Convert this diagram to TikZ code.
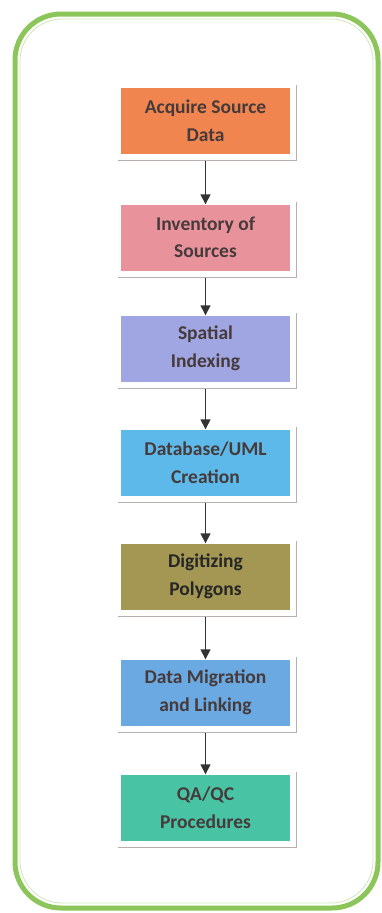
\documentclass[tikz,border=0pt]{standalone}
\usepackage{fontspec}
\setmainfont{Carlito}
\usetikzlibrary{calc,arrows.meta}
\definecolor{frameg}{HTML}{8CC65A}
\definecolor{frameglt}{HTML}{CFE5B8}
\definecolor{c1}{HTML}{F0854F}
\definecolor{c2}{HTML}{E8929C}
\definecolor{c3}{HTML}{A0A6E2}
\definecolor{c4}{HTML}{5DB9EA}
\definecolor{c5}{HTML}{A39753}
\definecolor{c6}{HTML}{6AA9E2}
\definecolor{c7}{HTML}{48C3A4}
\definecolor{txt}{HTML}{463A3A}
\definecolor{shad}{HTML}{B9AEAE}
\tikzset{
  stepbox/.style={draw=none, minimum width=169pt, minimum height=66pt, inner sep=0pt,
    align=center, text=txt, font=\fontsize{19.5}{27.5}\selectfont\bfseries},
  shadowline/.style={draw=shad, line width=1.3pt},
  arr/.style={draw=black!80, line width=1.4pt, -{Triangle[length=10pt,width=10pt]}},
}
\begin{document}
\begin{tikzpicture}[x=1pt,y=-1pt]
\useasboundingbox (0,0) rectangle (382,913);
\draw[frameg, line width=5pt, rounded corners=46pt] (15,14) rectangle (378,908);
\draw[frameglt, line width=0.8pt, rounded corners=42pt] (20,19) rectangle (373,903);

\node[stepbox, fill=c1] (b1) at (205.5,120.5) {Acquire Source\\Data};
\node[stepbox, fill=c2] (b2) at (205.5,237.5) {Inventory of\\Sources};
\node[stepbox, fill=c3] (b3) at (205.5,348.5) {Spatial\\Indexing};
\node[stepbox, fill=c4] (b4) at (205.5,462.5) {Database/UML\\Creation};
\node[stepbox, fill=c5, text=black!85] (b5) at (205.5,576.5) {Digitizing\\Polygons};
\node[stepbox, fill=c6] (b6) at (205.5,692.5) {Data Migration\\and Linking};
\node[stepbox, fill=c7] (b7) at (205.5,807.5) {QA/QC\\Procedures};

\foreach \b in {b1,b2,b3,b4,b5,b6,b7}{
  \draw[shadowline] ($(\b.north east)+(6,-2)$) -- ($(\b.south east)+(6,7)$) -- ($(\b.south west)+(-3,7)$);
}
\foreach \a/\b in {b1/b2,b2/b3,b3/b4,b4/b5,b5/b6,b6/b7}{
  \draw[arr] ($(\a.south)+(0,7)$) -- (\b.north);
}
\end{tikzpicture}
\end{document}
